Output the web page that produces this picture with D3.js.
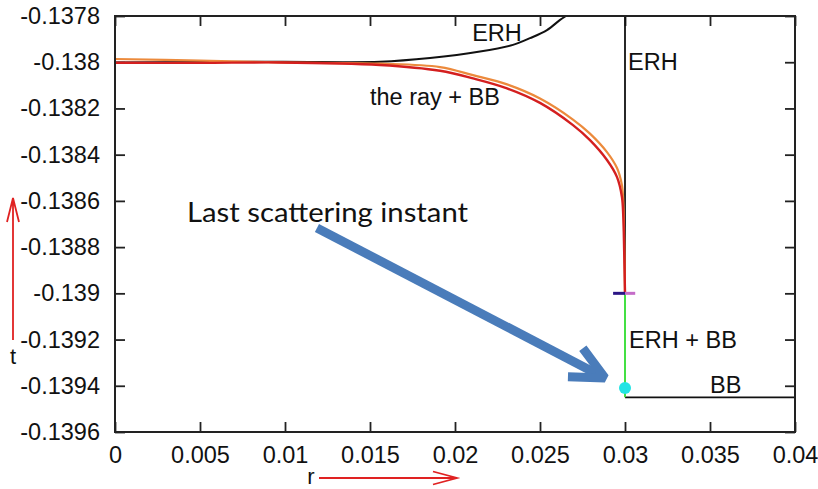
<!DOCTYPE html>
<html>
<head>
<meta charset="utf-8">
<script src="https://cdn.jsdelivr.net/npm/d3@7.9.0/dist/d3.min.js"></script>
<style>
  body { margin: 0; background: #fff; }
  svg { display: block; font-family: "Liberation Sans", Arial, sans-serif; }
</style>
</head>
<body>
<svg id="chart" width="818" height="489"></svg>
<script>
// axis ticks
const xTicks = [0, 0.005, 0.01, 0.015, 0.02, 0.025, 0.03, 0.035, 0.04];
const xTickLabels = ["0", "0.005", "0.01", "0.015", "0.02", "0.025", "0.03", "0.035", "0.04"];
const yTicks = [-0.1396, -0.1394, -0.1392, -0.139, -0.1388, -0.1386, -0.1384, -0.1382, -0.138, -0.1378];
const yTickLabels = ["-0.1396", "-0.1394", "-0.1392", "-0.139", "-0.1388", "-0.1386", "-0.1384", "-0.1382", "-0.138", "-0.1378"];

// [r, t] pairs
const rayCurve = [
  [0, -0.138002], [0.005, -0.138003], [0.0097, -0.138001], [0.01559, -0.138012],
  [0.01912, -0.138037], [0.02106, -0.13807], [0.02306, -0.138113], [0.025, -0.138176],
  [0.02694, -0.138272], [0.02794, -0.138337], [0.02894, -0.138423], [0.02953, -0.138497],
  [0.02982, -0.138583], [0.0299, -0.13867], [0.02995, -0.138813], [0.03, -0.139]
];
const bbCurve = [
  [0, -0.137986], [0.005, -0.137993], [0.0095, -0.138001], [0.01559, -0.138006],
  [0.01912, -0.138021], [0.02106, -0.138056], [0.02306, -0.138096], [0.025, -0.138157],
  [0.02694, -0.138248], [0.02794, -0.138309], [0.02894, -0.138389], [0.02953, -0.138458],
  [0.02982, -0.138532], [0.0299, -0.138605], [0.02995, -0.138748], [0.03, -0.139]
];
const erhCurve = [
  [0, -0.138001], [0.0097, -0.137998], [0.01559, -0.137998], [0.01853, -0.137982],
  [0.02147, -0.137954], [0.02341, -0.137925], [0.02441, -0.137896], [0.02541, -0.137861],
  [0.02618, -0.137817], [0.02653, -0.1378]
];
const erhVertical = [[0.03, -0.1378], [0.03, -0.139]];
const erhBBSegment = [[0.03, -0.139], [0.03, -0.13945]];
const bbHorizontal = [[0.03, -0.13945], [0.04, -0.13945]];
const markerT = -0.139;
const markerR = [0.0293, 0.03, 0.0306];
const lastScattering = [0.03, -0.13941];

// annotation labels: [text, r, t]
const labels = [
  ["ERH", 0.02101, -0.13791],
  ["ERH", 0.03018, -0.138033],
  ["the ray + BB", 0.01500, -0.138185],
  ["ERH + BB", 0.03024, -0.139237],
  ["BB", 0.03500, -0.139431]
];
const calloutText = "Last scattering instant";
const calloutArrow = [[0.01188, -0.138717], [0.02882, -0.139366]];

const svg = d3.select("#chart");
const width = 818, height = 489;
const margin = { top: 16, right: 23, bottom: 57, left: 115 };

const x = d3.scaleLinear().domain([0, 0.04]).range([margin.left, width - margin.right]);
const y = d3.scaleLinear().domain([-0.1396, -0.1378]).range([height - margin.bottom, margin.top]);

svg.append("defs").append("clipPath").attr("id", "plot-clip")
  .append("rect")
  .attr("x", margin.left).attr("y", margin.top)
  .attr("width", x(0.04) - x(0)).attr("height", y(-0.1396) - y(-0.1378));

// axes, inward ticks on all four sides
const fontSize = "23.5px";
svg.append("g")
  .attr("transform", `translate(0,${y(-0.1396)})`)
  .call(d3.axisBottom(x).tickValues(xTicks).tickFormat((d, i) => xTickLabels[i]).tickSize(-10).tickSizeOuter(0).tickPadding(14));
svg.append("g")
  .attr("transform", `translate(${x(0)},0)`)
  .call(d3.axisLeft(y).tickValues(yTicks).tickFormat((d, i) => yTickLabels[i]).tickSize(-10).tickSizeOuter(0).tickPadding(15));
svg.append("g")
  .attr("transform", `translate(0,${y(-0.1378)})`)
  .call(d3.axisTop(x).tickValues(xTicks).tickFormat("").tickSize(-10).tickSizeOuter(0));
svg.append("g")
  .attr("transform", `translate(${x(0.04)},0)`)
  .call(d3.axisRight(y).tickValues(yTicks).tickFormat("").tickSize(-10).tickSizeOuter(0));

svg.selectAll(".domain").remove();
svg.selectAll(".tick line").attr("stroke", "#222").attr("stroke-width", 1.8);
svg.selectAll(".tick text").attr("font-size", fontSize).attr("font-family", "Liberation Sans, Arial, sans-serif").attr("fill", "#111");

const line = d3.line().x((d) => x(d[0])).y((d) => y(d[1]));
const smooth = d3.line().x((d) => x(d[0])).y((d) => y(d[1])).curve(d3.curveCatmullRom.alpha(0.5));

const plot = svg.append("g").attr("clip-path", "url(#plot-clip)");

plot.append("path").datum(erhCurve).attr("d", smooth)
  .attr("fill", "none").attr("stroke", "#111").attr("stroke-width", 2);
plot.append("path").datum(erhVertical).attr("d", line)
  .attr("fill", "none").attr("stroke", "#111").attr("stroke-width", 1.8);
plot.append("path").datum(bbHorizontal).attr("d", line)
  .attr("fill", "none").attr("stroke", "#111").attr("stroke-width", 1.8);
plot.append("path").datum(bbCurve).attr("d", smooth)
  .attr("fill", "none").attr("stroke", "#ec8a3c").attr("stroke-width", 2.2);
plot.append("path").datum(rayCurve).attr("d", smooth)
  .attr("fill", "none").attr("stroke", "#d41f1f").attr("stroke-width", 2.4);
plot.append("path").datum(erhBBSegment).attr("d", line)
  .attr("fill", "none").attr("stroke", "#44e044").attr("stroke-width", 2);

// short marker at the end of the ray
plot.append("line")
  .attr("x1", x(markerR[0])).attr("x2", x(markerR[1]))
  .attr("y1", y(markerT)).attr("y2", y(markerT))
  .attr("stroke", "#2b1585").attr("stroke-width", 3);
plot.append("line")
  .attr("x1", x(markerR[1])).attr("x2", x(markerR[2]))
  .attr("y1", y(markerT)).attr("y2", y(markerT))
  .attr("stroke", "#c56cc8").attr("stroke-width", 3);

plot.append("circle")
  .attr("cx", x(lastScattering[0])).attr("cy", y(lastScattering[1]))
  .attr("r", 6).attr("fill", "#22e4e4");

// frame
svg.append("rect")
  .attr("x", x(0)).attr("y", y(-0.1378))
  .attr("width", x(0.04) - x(0)).attr("height", y(-0.1396) - y(-0.1378))
  .attr("fill", "none").attr("stroke", "#222").attr("stroke-width", 2);

svg.selectAll("text.label")
  .data(labels)
  .enter()
  .append("text")
  .attr("class", "label")
  .attr("x", (d) => x(d[1]))
  .attr("y", (d) => y(d[2]))
  .attr("font-size", fontSize)
  .attr("fill", "#111")
  .text((d) => d[0]);

// callout with blue arrow
svg.append("text")
  .attr("x", 187).attr("y", 222)
  .attr("font-family", "Lato, 'Open Sans', sans-serif")
  .attr("font-size", "26px")
  .attr("textLength", 281)
  .attr("lengthAdjust", "spacingAndGlyphs")
  .attr("fill", "#111")
  .text(calloutText);

const a0 = [x(calloutArrow[0][0]), y(calloutArrow[0][1])];
const a1 = [x(calloutArrow[1][0]), y(calloutArrow[1][1])];
const ang = Math.atan2(a1[1] - a0[1], a1[0] - a0[0]);
const barbLen = 37, barbAng = 0.45;
const barb = (s) => [a1[0] - barbLen * Math.cos(ang + s * barbAng), a1[1] - barbLen * Math.sin(ang + s * barbAng)];
const blue = "#4a7cba";
svg.append("line")
  .attr("x1", a0[0]).attr("y1", a0[1])
  .attr("x2", a1[0] - 6 * Math.cos(ang)).attr("y2", a1[1] - 6 * Math.sin(ang))
  .attr("stroke", blue).attr("stroke-width", 9);
svg.append("path")
  .attr("d", d3.line()([barb(1), a1, barb(-1)]))
  .attr("fill", "none").attr("stroke", blue).attr("stroke-width", 9)
  .attr("stroke-linejoin", "miter").attr("stroke-miterlimit", 2);

// axis name arrows
const red = "#e02222";
const tArrow = d3.path();
tArrow.moveTo(13, 340); tArrow.lineTo(13, 198);
tArrow.moveTo(7, 222); tArrow.lineTo(13, 198); tArrow.lineTo(19, 222);
svg.append("path").attr("d", tArrow.toString())
  .attr("fill", "none").attr("stroke", red).attr("stroke-width", 1.8);
svg.append("text").attr("x", 13).attr("y", 364).attr("text-anchor", "middle")
  .attr("font-size", "22px").attr("fill", "#111").text("t");

const rArrow = d3.path();
rArrow.moveTo(319, 478); rArrow.lineTo(457, 478);
rArrow.moveTo(433, 471.5); rArrow.lineTo(457, 478); rArrow.lineTo(433, 484.5);
svg.append("path").attr("d", rArrow.toString())
  .attr("fill", "none").attr("stroke", red).attr("stroke-width", 1.8);
svg.append("text").attr("x", 311).attr("y", 484).attr("text-anchor", "middle")
  .attr("font-size", "22px").attr("fill", "#111").text("r");
</script>
</body>
</html>
